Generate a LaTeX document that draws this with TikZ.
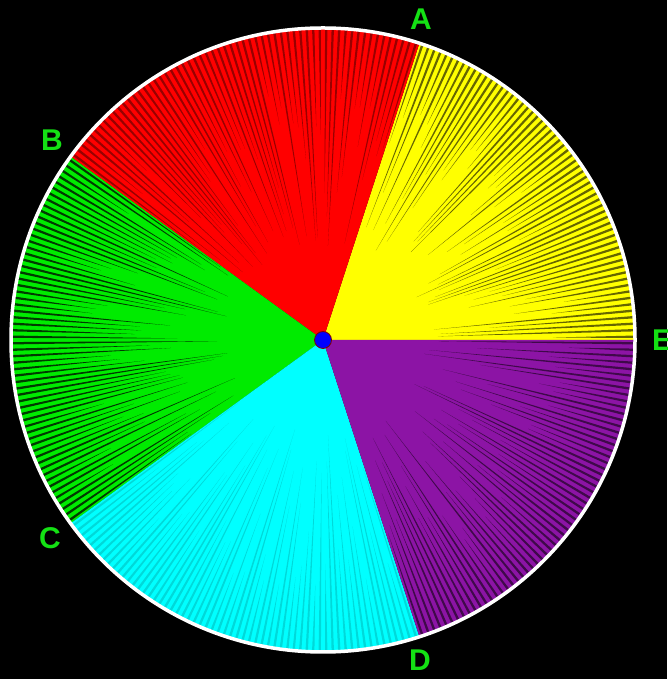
\documentclass[tikz,border=0pt]{standalone}
\usepackage{fontspec}
\setmainfont{Liberation Sans}
\definecolor{ylw}{RGB}{255,255,0}
\definecolor{rd}{RGB}{255,0,0}
\definecolor{grn}{RGB}{0,235,0}
\definecolor{cyn}{RGB}{0,255,255}
\definecolor{prp}{RGB}{140,20,165}
\definecolor{labgreen}{RGB}{20,225,20}
\tikzset{
  lab/.style={text=labgreen,font=\bfseries\fontsize{30}{30}\selectfont,inner sep=0},
  rim/.style={draw=white,line width=3.5},
  hub/.style={circle,fill=blue,draw=red!50!black,line width=0.8,minimum size=17,inner sep=0}
}
\begin{document}
\begin{tikzpicture}[x=1pt,y=1pt]
\fill[black] (0,0) rectangle (667,679);
\useasboundingbox (0,0) rectangle (667,679);
\coordinate (O) at (323,339);
\foreach \s/\c in {0/ylw,72/rd,144/grn,216/cyn,288/prp}{
  \fill[\c,shift={(O)}] (0,0) -- (\s:312) arc[start angle=\s,end angle=\s+72,radius=312] -- cycle;
}
\pgfmathsetseed{7}
\foreach \s/\op in {0/0.6,72/0.4,144/0.75,216/0.15,288/0.55}{
  \foreach \k in {0,...,59}{
    \pgfmathsetmacro\a{\s+0.6+1.2*\k}
    \pgfmathsetmacro\ri{312*(0.3+0.5*rnd)}
    \fill[black,opacity=\op,shift={(O)}] (\a:\ri) -- (\a-0.22:311) -- (\a+0.22:311) -- cycle;
  }
}
\draw[rim] (O) circle[radius=312];
\node[hub] (hub) at (O) {};
\node[lab] (A) at (421,660) {A};
\node[lab] (B) at (52,539) {B};
\node[lab] (C) at (50,141) {C};
\node[lab] (D) at (420,19) {D};
\node[lab] (E) at (662,339) {E};
\end{tikzpicture}
\end{document}
